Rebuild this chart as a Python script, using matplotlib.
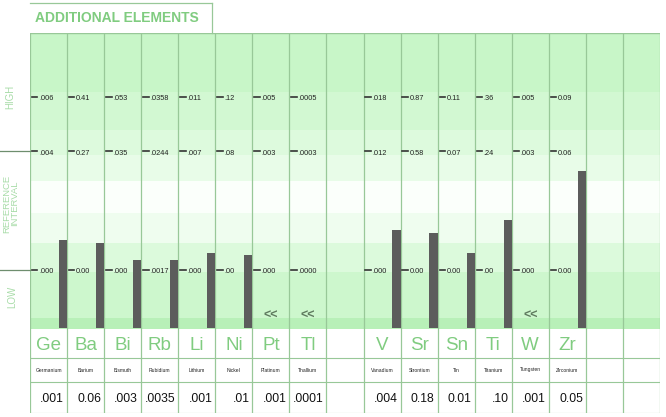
import matplotlib
matplotlib.use('Agg')
import matplotlib.pyplot as plt
from matplotlib.lines import Line2D

plt.rcParams['font.family'] = ['Liberation Sans', 'DejaVu Sans']

# one entry per column, '' = empty column
symbols = ['Ge', 'Ba', 'Bi', 'Rb', 'Li', 'Ni', 'Pt', 'Tl', '',
           'V', 'Sr', 'Sn', 'Ti', 'W', 'Zr', '', '']
names = ['Germanium', 'Barium', 'Bismuth', 'Rubidium', 'Lithium', 'Nickel',
         'Platinum', 'Thallium', '', 'Vanadium', 'Strontium', 'Tin',
         'Titanium', 'Tungsten', 'Zirconium', '', '']
high_labels = ['.006', '0.41', '.053', '.0358', '.011', '.12', '.005', '.0005', '',
               '.018', '0.87', '0.11', '.36', '.005', '0.09', '', '']
ref_high_labels = ['.004', '0.27', '.035', '.0244', '.007', '.08', '.003', '.0003', '',
                   '.012', '0.58', '0.07', '.24', '.003', '0.06', '', '']
low_labels = ['.000', '0.00', '.000', '.0017', '.000', '.00', '.000', '.0000', '',
              '.000', '0.00', '0.00', '.00', '.000', '0.00', '', '']
results = ['.001', '0.06', '.003', '.0035', '.001', '.01', '.001', '.0001', '',
           '.004', '0.18', '0.01', '.10', '.001', '0.05', '', '']
below_detection = ['Pt', 'Tl', 'W']

GREEN_TXT = '#80cc80'
GRID = '#98c898'
W, H = 666, 417

fig = plt.figure(figsize=(W / 100, H / 100), dpi=100)
fig.patch.set_facecolor('white')


def fx(x):
    return x / W


def fy(y):
    return 1 - y / H


# chart area: low limit = 0, reference high = 1
ax = fig.add_axes([fx(30), fy(329), 630 / W, 296 / H])
ax.set_xlim(0, len(symbols))
ax.set_ylim(-0.5, 2.0)
ax.axis('off')

# shaded horizontal bands
bands = [(1.5, 2.0, '#c8f6c8'), (1.18, 1.5, '#d2f8d2'), (0.97, 1.18, '#ddfadd'),
         (0.75, 0.97, '#e8fce8'), (0.48, 0.75, '#fbfffb'), (0.23, 0.48, '#effdef'),
         (-0.02, 0.23, '#dcfadc'), (-0.41, -0.02, '#cdf7cd'), (-0.5, -0.41, '#b8f0b8')]
for y0, y1, c in bands:
    ax.axhspan(y0, y1, color=c, lw=0, zorder=0)

ax.axhline(2.0, color=GRID, lw=1, zorder=1)
for i in range(len(symbols) + 1):
    ax.axvline(i, color=GRID, lw=0.9, zorder=1)

# tick lines on the left for the reference interval
for yv in (0, 1):
    ax.plot([-0.82, 0], [yv, yv], color='#6e8e6e', lw=0.9, clip_on=False, zorder=2)

ax.text(-0.52, 1.46, 'HIGH', rotation=90, ha='center', va='center',
        fontsize=7, color='#a8dca8')
ax.text(-0.52, 0.56, 'REFERENCE\nINTERVAL', rotation=90, ha='center', va='center',
        fontsize=6.8, color='#a8dca8', linespacing=0.95)
ax.text(-0.47, -0.23, 'LOW', rotation=90, ha='center', va='center',
        fontsize=7, color='#a8dca8')

for i, sym in enumerate(symbols):
    if not sym:
        continue
    for yv, lab in ((1.46, high_labels[i]), (1.0, ref_high_labels[i]), (0.0, low_labels[i])):
        ax.plot([i + 0.05, i + 0.2], [yv, yv], color='#333333', lw=1.2, zorder=3)
        ax.text(i + 0.24, yv - 0.015, lab, ha='left', va='center',
                fontsize=5.3, color='#222222')
    if sym in below_detection:
        ax.text(i + 0.5, -0.39, '<<', ha='center', va='center', fontsize=9,
                color='#5e7a5e', fontweight='bold')
    else:
        lo = float(low_labels[i])
        hi = float(ref_high_labels[i])
        pos = (float(results[i]) - lo) / (hi - lo)
        ax.bar(i + 1 - 0.22, pos + 0.49, bottom=-0.49, width=0.22, align='edge',
               color='#5c5c5c', zorder=4)

# table with symbols, names and results
tx = fig.add_axes([fx(30), fy(413), 630 / W, 84 / H])
tx.set_xlim(0, len(symbols))
tx.set_ylim(84, 0)
tx.axis('off')
for yv in (29, 53, 84):
    tx.axhline(yv, color=GRID, lw=0.8)
for i in range(len(symbols) + 1):
    tx.axvline(i, color=GRID, lw=0.9)
for i, sym in enumerate(symbols):
    if not sym:
        continue
    tx.text(i + 0.5, 16, sym, ha='center', va='center', fontsize=13.5,
            color=GREEN_TXT)
    tx.text(i + 0.5, 41, names[i], ha='center', va='center', fontsize=3.6,
            color='#222222')
    tx.text(i + 1 - 0.08, 70, results[i], ha='right', va='center', fontsize=8.7,
            color='#111111')

# header tab
fig.text(fx(35), fy(18), 'ADDITIONAL ELEMENTS', ha='left', va='center',
         fontsize=10, fontweight='bold', color=GREEN_TXT)
fig.add_artist(Line2D([fx(30), fx(212)], [fy(3), fy(3)], color=GRID, lw=0.9))
fig.add_artist(Line2D([fx(212), fx(212)], [fy(3), fy(33)], color=GRID, lw=0.9))

fig.savefig('out.png', dpi=100)
